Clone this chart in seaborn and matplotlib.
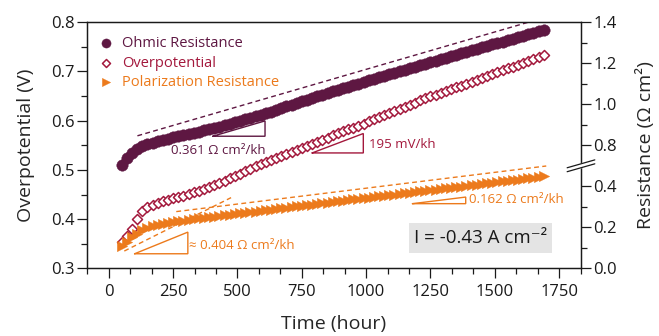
import numpy as np
import pandas as pd
import matplotlib
matplotlib.use("Agg")
import matplotlib.pyplot as plt
import seaborn as sns
from matplotlib.patches import Rectangle
from matplotlib.ticker import FixedLocator, NullFormatter

# ---------------------------------------------------------------- data
time_h = [50, 70, 90, 110, 130, 150, 170, 190, 210, 230, 250, 270, 290, 310,
          330, 350, 370, 390, 410, 430, 450, 470, 490, 510, 530, 550, 570,
          590, 610, 630, 650, 670, 690, 710, 730, 750, 770, 790, 810, 830,
          850, 870, 890, 910, 930, 950, 970, 990, 1010, 1030, 1050, 1070,
          1090, 1110, 1130, 1150, 1170, 1190, 1210, 1230, 1250, 1270, 1290,
          1310, 1330, 1350, 1370, 1390, 1410, 1430, 1450, 1470, 1490, 1510,
          1530, 1550, 1570, 1590, 1610, 1630, 1650, 1670, 1690]

ohmic_res = [0.705, 0.738, 0.762, 0.782, 0.795, 0.805, 0.813, 0.820, 0.826,
             0.832, 0.838, 0.844, 0.850, 0.855, 0.861, 0.866, 0.872, 0.878,
             0.884, 0.891, 0.898, 0.905, 0.912, 0.919, 0.926, 0.933, 0.941,
             0.948, 0.955, 0.964, 0.972, 0.980, 0.990, 0.998, 1.006, 1.014,
             1.022, 1.030, 1.038, 1.046, 1.054, 1.062, 1.069, 1.077, 1.085,
             1.093, 1.100, 1.108, 1.116, 1.123, 1.131, 1.139, 1.146, 1.154,
             1.161, 1.168, 1.175, 1.183, 1.190, 1.197, 1.204, 1.212, 1.219,
             1.226, 1.233, 1.240, 1.247, 1.255, 1.262, 1.269, 1.276, 1.283,
             1.291, 1.298, 1.305, 1.312, 1.319, 1.327, 1.334, 1.341, 1.348,
             1.356, 1.363]

overpotential = [0.354, 0.366, 0.380, 0.400, 0.416, 0.425, 0.429, 0.433,
                 0.436, 0.439, 0.442, 0.445, 0.448, 0.451, 0.455, 0.458,
                 0.462, 0.466, 0.470, 0.474, 0.478, 0.483, 0.487, 0.492,
                 0.497, 0.502, 0.507, 0.512, 0.516, 0.521, 0.525, 0.529,
                 0.533, 0.537, 0.541, 0.545, 0.549, 0.553, 0.557, 0.561,
                 0.565, 0.570, 0.574, 0.578, 0.582, 0.586, 0.590, 0.594,
                 0.599, 0.603, 0.607, 0.611, 0.615, 0.620, 0.624, 0.628,
                 0.632, 0.636, 0.641, 0.645, 0.649, 0.652, 0.656, 0.660,
                 0.664, 0.668, 0.671, 0.675, 0.679, 0.683, 0.687, 0.690,
                 0.694, 0.698, 0.702, 0.706, 0.709, 0.713, 0.717, 0.721,
                 0.725, 0.729, 0.733]

polarization_res = [0.108, 0.130, 0.152, 0.170, 0.186, 0.198, 0.206, 0.212,
                    0.217, 0.221, 0.225, 0.229, 0.233, 0.237, 0.241, 0.244,
                    0.247, 0.250, 0.253, 0.256, 0.259, 0.262, 0.265, 0.268,
                    0.271, 0.274, 0.277, 0.280, 0.284, 0.287, 0.290, 0.293,
                    0.296, 0.299, 0.302, 0.305, 0.308, 0.311, 0.314, 0.317,
                    0.320, 0.324, 0.327, 0.330, 0.333, 0.336, 0.339, 0.342,
                    0.345, 0.348, 0.351, 0.354, 0.357, 0.360, 0.363, 0.366,
                    0.369, 0.372, 0.375, 0.378, 0.381, 0.384, 0.387, 0.390,
                    0.393, 0.396, 0.399, 0.402, 0.405, 0.408, 0.411, 0.414,
                    0.418, 0.421, 0.424, 0.427, 0.430, 0.433, 0.436, 0.439,
                    0.442, 0.445, 0.448]

# dashed guide lines (time, resistance end points)
ohmic_guide_t = [111, 1680]
ohmic_guide_r = [0.846, 1.417]
pol_early_guide_t = [60, 475]
pol_early_guide_r = [0.085, 0.345]
pol_late_guide_t = [262, 1700]
pol_late_guide_r = [0.277, 0.499]

x_major = [0, 250, 500, 750, 1000, 1250, 1500, 1750]
x_minor = [-83.33, 83.33, 166.67, 333.33, 416.67, 583.33, 666.67, 833.33,
           916.67, 1083.33, 1166.67, 1333.33, 1416.67, 1583.33, 1666.67,
           1833.33]
v_major = [0.3, 0.4, 0.5, 0.6, 0.7, 0.8]
v_minor = [0.35, 0.45, 0.55, 0.65, 0.75]
r_major = [0.0, 0.2, 0.4, 0.8, 1.0, 1.2, 1.4]
r_minor = [0.1, 0.3, 0.9, 1.1, 1.3]

C_OHM = "#5e1742"
C_OVP = "#a3183c"
C_POL = "#ec7a1c"

df = pd.DataFrame({"time": time_h, "ohmic": ohmic_res,
                   "overpotential": overpotential,
                   "polarization": polarization_res})

# ---------------------------------------------------------------- style
sns.set_style("ticks")
plt.rcParams["font.family"] = ["Open Sans", "DejaVu Sans"]
plt.rcParams["axes.linewidth"] = 0.9
plt.rcParams["axes.edgecolor"] = "#1a1a1a"
plt.rcParams["xtick.color"] = "#1a1a1a"
plt.rcParams["ytick.color"] = "#1a1a1a"

fig = plt.figure(figsize=(6.59, 3.36), dpi=100)
ax = fig.add_axes([0.132, 0.2009, 0.7496, 0.7336])
ax2 = ax.twinx()


# broken resistance axis: 0-0.5 and 0.7-1.4 share one scale
def _fwd(y):
    y = np.asarray(y, dtype=float)
    return np.where(y <= 0.5, y, np.where(y >= 0.7, y - 0.2, 0.5))


def _inv(v):
    v = np.asarray(v, dtype=float)
    return np.where(v <= 0.5, v, v + 0.2)


ax2.set_yscale("function", functions=(_fwd, _inv))

# ---------------------------------------------------------------- series
sns.scatterplot(data=df, x="time", y="overpotential", ax=ax, marker="D",
                s=26, color="white", edgecolor=C_OVP, linewidth=1.1,
                label="Overpotential", zorder=3, legend=False)
sns.scatterplot(data=df, x="time", y="ohmic", ax=ax2, marker="o", s=68,
                color=C_OHM, edgecolor=C_OHM, linewidth=0.3,
                label="Ohmic Resistance", zorder=3, legend=False)
sns.scatterplot(data=df, x="time", y="polarization", ax=ax2, marker=">",
                s=55, color=C_POL, edgecolor=C_POL, linewidth=0.3,
                label="Polarization Resistance", zorder=3, legend=False)

dash = (0, (3.5, 2.4))
ax2.plot(ohmic_guide_t, ohmic_guide_r, color=C_OHM, lw=1.0, ls=dash)
ax2.plot(pol_early_guide_t, pol_early_guide_r, color=C_POL, lw=1.0, ls=dash)
ax2.plot(pol_late_guide_t, pol_late_guide_r, color=C_POL, lw=1.0, ls=dash)

# ---------------------------------------------------------------- axes
ax.set_xlim(-85, 1835)
ax.set_ylim(0.3, 0.8)
ax2.set_ylim(0.0, 1.4)

ax.xaxis.set_major_locator(FixedLocator(x_major))
ax.xaxis.set_minor_locator(FixedLocator(x_minor))
ax.yaxis.set_major_locator(FixedLocator(v_major))
ax.yaxis.set_minor_locator(FixedLocator(v_minor))
ax.set_yticklabels([f"{v:.1f}" for v in v_major])
ax2.yaxis.set_major_locator(FixedLocator(r_major))
ax2.yaxis.set_minor_locator(FixedLocator(r_minor))
ax2.yaxis.set_minor_formatter(NullFormatter())
ax2.set_yticklabels([f"{v:.1f}" for v in r_major])

for a in (ax, ax2):
    a.tick_params(which="major", direction="out", length=7, width=0.9,
                  labelsize=12, pad=2)
    a.tick_params(which="minor", direction="out", length=4, width=0.9)
ax.tick_params(axis="x", which="major", pad=4)
ax.tick_params(axis="y", right=False)
ax.tick_params(axis="x", top=False)
ax2.tick_params(axis="y", left=False, right=True)
for s in ("top", "right", "left", "bottom"):
    ax.spines[s].set_visible(True)
    ax2.spines[s].set_visible(True)

ax.set_xlabel("Time (hour)", fontsize=14)
ax.set_ylabel("Overpotential (V)", fontsize=14)
ax2.set_ylabel("Resistance (Ω cm²)", fontsize=14)
ax.xaxis.set_label_coords(0.5, -0.19)
ax.yaxis.set_label_coords(-0.106, 0.5)
ax2.yaxis.set_label_coords(1.112, 0.5)

# break marks on the resistance axis
yb = 0.5 / 1.2
dx, dy, gap = 0.028, 0.016, 0.008
tr = ax2.transAxes
ax2.fill([1 - dx, 1 + dx, 1 + dx, 1 - dx],
         [yb - gap - dy, yb - gap + dy, yb + gap + dy, yb + gap - dy],
         color="white", transform=tr, clip_on=False, zorder=5)
for off in (-gap, gap):
    ax2.plot([1 - dx, 1 + dx], [yb + off - dy, yb + off + dy], color="#1a1a1a",
             lw=0.9, transform=tr, clip_on=False, zorder=6)

# ---------------------------------------------------------------- slope triangles
def slope_triangle(t0, t1, v0, v1, color):
    ax.plot([t0, t1, t1, t0], [v0, v0, v1, v0], color=color, lw=1.0,
            solid_joinstyle="miter")


slope_triangle(404, 607, 0.5683, 0.5994, C_OHM)
ax.text(424, 0.540, "0.361 Ω cm²/kh", color=C_OHM, fontsize=9.5,
        ha="center", va="center")

slope_triangle(790, 989, 0.5344, 0.5738, C_OVP)
ax.text(1012, 0.5514, "195 mV/kh", color=C_OVP, fontsize=9.5,
        ha="left", va="center")

slope_triangle(100, 307, 0.3299, 0.3738, C_POL)
ax.text(313, 0.3467, "≈ 0.404 Ω cm²/kh", color=C_POL, fontsize=9.5,
        ha="left", va="center")

slope_triangle(1180, 1387, 0.4315, 0.4449, C_POL)
ax.text(1400, 0.4396, "0.162 Ω cm²/kh", color=C_POL, fontsize=9.5,
        ha="left", va="center")

# current-density label on a grey panel
ax.add_patch(Rectangle((1167, 0.3305), 555, 0.061, facecolor="#e4e4e4",
                       edgecolor="none", zorder=2))
ax.text(1445, 0.361, "I = -0.43 A cm⁻²", color="#1a1a1a", fontsize=13.5,
        ha="center", va="center", zorder=4)

# ---------------------------------------------------------------- legend
h1, l1 = ax2.get_legend_handles_labels()
h0, l0 = ax.get_legend_handles_labels()
handles = [h1[0], h0[0], h1[1]]
labels = [l1[0], l0[0], l1[1]]
leg = ax2.legend(handles, labels, loc="upper left",
                 bbox_to_anchor=(0.003, 0.985), frameon=False, fontsize=10.5,
                 handlelength=1.0, handletextpad=0.6, labelspacing=0.32,
                 borderpad=0.2, markerscale=0.8,
                 labelcolor=[C_OHM, C_OVP, C_POL])

fig.savefig("out.png", dpi=100)
